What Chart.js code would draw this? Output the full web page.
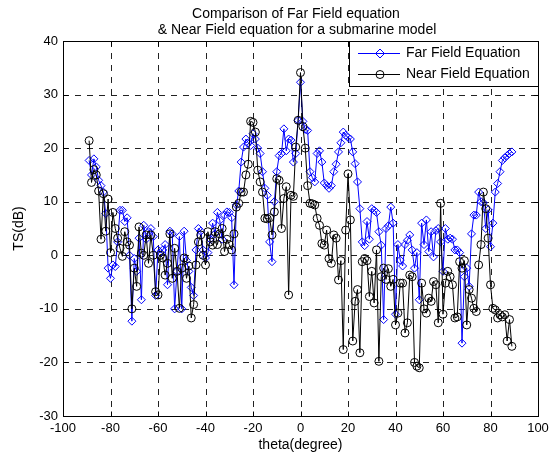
<!DOCTYPE html>
<html>
<head>
<meta charset="utf-8">
<title>TS comparison</title>
<script src="https://cdn.jsdelivr.net/npm/chart.js@4.4.0/dist/chart.umd.min.js"></script>
<style>
  body { margin: 0; background: #fff; }
  #box { width: 555px; height: 457px; }
</style>
</head>
<body>
<div id="box"><canvas id="graphteste" width="555" height="457"></canvas></div>
<script>
// angle (degree)
var theta = [
  -89, -88, -87, -86, -85, -84, -83, -82, -81, -80,
  -79, -78, -77, -76, -75, -74, -73, -72, -71, -70,
  -69, -68, -67, -66, -65, -64, -63, -62, -61, -60,
  -59, -58, -57, -56, -55, -54, -53, -52, -51, -50,
  -49, -48, -47, -46, -45, -44, -43, -42, -41, -40,
  -39, -38, -37, -36, -35, -34, -33, -32, -31, -30,
  -29, -28, -27, -26, -25, -24, -23, -22, -21, -20,
  -19, -18, -17, -16, -15, -14, -13, -12, -11, -10,
  -9, -8, -7, -6, -5, -4, -3, -2, -1, 0,
  1, 2, 3, 4, 5, 6, 7, 8, 9, 10,
  11, 12, 13, 14, 15, 16, 17, 18, 19, 20,
  21, 22, 23, 24, 25, 26, 27, 28, 29, 30,
  31, 32, 33, 34, 35, 36, 37, 38, 39, 40,
  41, 42, 43, 44, 45, 46, 47, 48, 49, 50,
  51, 52, 53, 54, 55, 56, 57, 58, 59, 60,
  61, 62, 63, 64, 65, 66, 67, 68, 69, 70,
  71, 72, 73, 74, 75, 76, 77, 78, 79, 80,
  81, 82, 83, 84, 85, 86, 87, 88, 89
];

// TS (dB), far field equation
var farField = [
  17.7, 15, 18, 16.5, 14, 13, 11.8, 7.8, -2.4, -4.3,
  -1.8, -2.1, 2.5, 8.4, 8.4, 6.3, 7, 0, -12.3, -0.6,
  -3, 3.2, -8.3, 5.6, 3, 4.4, 5, 3.5, -7.5, 1,
  0.5, 1, 2, -5.5, 4.5, 4, -10, -3, 3.5, -10,
  4.5, -1, -3, -6, -7.5, 1, 5, 4.5, 1, -0.5,
  0.5, 3, 6, 4, 8, 6.5, 3, 7.5, 8.1, 8,
  7, -5.5, 9.4, 12, 17.4, 20.2, 21.7, 21, 20.5, 22.7,
  21.7, 20, 19, 15.6, 12.5, 11.2, 2.5, -1.2, 10, 15.6,
  18.6, 19, 23.6, 19.5, 21.7, 21.5, 17.4, 19, 25.2, 32.3,
  25, 23.5, 23.3, 15.6, 14.5, 13.7, 19, 19.5, 17.4, 13.5,
  13, 12.5, 13, 15.6, 17, 19.3, 21, 23, 22.4, 22,
  21.7, 19.3, 17.1, 13.7, 8.7, 2.5, 1.8, 6.3, 3, 8.7,
  8.4, 8, 4.4, 1.9, -12, 5, 5.5, 9, 6, -11,
  2, -0.9, -2, 2, 2.8, 3.8, 1, -2.4, 0.5, -8.3,
  6, 2, 6.6, 0.7, 4.4, -0.3, 4.6, 5, 2.5, -3,
  5, 3, 3.2, 3, 1, 1, 0.5, -16.4, -4, -2.4,
  -5.8, 4, 7.5, 7.5, 11.8, 10, 9.8, 5, 8.5, 1.6,
  6, 11.8, 13.4, 15.6, 17.7, 18.2, 18.6, 19, 19.3
];

// TS (dB), near field equation
var nearField = [
  21.4, 13.6, 16, 15, 12, 3, 11.5, 4.5, 10.5, 0.5,
  8, 5, 3.2, 1.3, -0.2, 4.4, 2.5, 1.9, -10, -2.4,
  -5.8, 5.3, 0.4, 0, 3.8, -1.5, 3.8, 0, -6.8, -7.4,
  0, -0.5, -3.7, -1.5, 4, -4.3, 1.3, -3, -9.9, -2.4,
  -0.5, -4.3, -2, -11.7, -9.2, -1.8, 2.5, 3.8, 0, -1.8,
  4.4, 2.5, 1.9, 4.4, 2, 4, 5, 0.7, 3, 2,
  1, 4, 9, 9.7, 11.8, 11.8, 15, 17, 25, 24.8,
  23, 15.9, 13.7, 11.8, 6.9, 6.8, 7, 3.8, 8.1, 14.3,
  14, 5, 10.6, 12.8, -7.4, 11.2, 11, 20.2, 25.2, 34.1,
  24, 20, 13, 9.7, 9.6, 9.4, 6.9, 5.6, 2.2, 1.9,
  4.7, -0.6, -1.5, 3.8, 3.2, -4.6, -1, -17.6, 4.7, 15.2,
  6.6, -16, -8.6, -6.4, -18.2, -1.2, -0.6, -1, -7.7, -3,
  -8.9, 1, -19.8, -4, -2.4, -4.5, -2.5, -5.8, -4.5, -13,
  -10.8, -5.2, -5.2, -14.5, -12.6, -3.7, -4, -20, -20.7, -21,
  -5.2, -10, -10.8, -8, -8.6, -4.9, -5.5, -12.6, 9.7, -11,
  -5.2, -3, -4, -5.5, -11.7, -11.5, -1.2, -2.4, -1, -13,
  -6.4, -8, -9.9, -10.5, -1.8, 2, 11.8, 8.7, 3.2, -5.5,
  -9.9, -10.2, -11.7, -11.1, -11.5, -11.1, -16, -12, -17
];

var xTicks = [-100, -80, -60, -40, -20, 0, 20, 40, 60, 80, 100];
var yTicks = [-30, -20, -10, 0, 10, 20, 30, 40];
var seriesNames = ['Far Field Equation', 'Near Field Equation'];
var titleLines = ['Comparison of Far Field equation', '& Near Field equation for a submarine model'];

var fontName = "'Liberation Sans', Arial, Helvetica, sans-serif";

function toPoints(xs, ys) {
  var pts = [];
  for (var i = 0; i < xs.length; i++) {
    pts.push({ x: xs[i], y: ys[i] });
  }
  return pts;
}

function diamond(ctx, x, y, r) {
  ctx.beginPath();
  ctx.moveTo(x, y - r);
  ctx.lineTo(x + r, y);
  ctx.lineTo(x, y + r);
  ctx.lineTo(x - r, y);
  ctx.closePath();
  ctx.stroke();
}

// matlab style box, dashed grid, inner ticks, legend and title
var matlabLook = {
  id: 'matlabLook',
  beforeDatasetsDraw: function (chart) {
    var ctx = chart.ctx;
    var a = chart.chartArea;
    var xs = chart.scales.x, ys = chart.scales.y;
    ctx.save();
    ctx.strokeStyle = '#222';
    ctx.lineWidth = 1;
    ctx.setLineDash([6, 6]);
    ctx.beginPath();
    for (var i = 1; i < xTicks.length - 1; i++) {
      var px = Math.round(xs.getPixelForValue(xTicks[i])) + 0.5;
      ctx.moveTo(px, a.top);
      ctx.lineTo(px, a.bottom);
    }
    for (var j = 1; j < yTicks.length - 1; j++) {
      var py = Math.round(ys.getPixelForValue(yTicks[j])) + 0.5;
      ctx.moveTo(a.left, py);
      ctx.lineTo(a.right, py);
    }
    ctx.stroke();
    ctx.restore();
  },
  afterDatasetsDraw: function (chart) {
    var ctx = chart.ctx;
    var a = chart.chartArea;
    var xs = chart.scales.x, ys = chart.scales.y;
    var L = Math.round(a.left) + 0.5, R = Math.round(a.right) + 0.5;
    var T = Math.round(a.top) + 0.5, B = Math.round(a.bottom) + 0.5;
    ctx.save();
    ctx.strokeStyle = '#000';
    ctx.lineWidth = 1;
    ctx.setLineDash([]);
    // inner tick marks
    ctx.beginPath();
    for (var i = 1; i < xTicks.length - 1; i++) {
      var px = Math.round(xs.getPixelForValue(xTicks[i])) + 0.5;
      ctx.moveTo(px, B); ctx.lineTo(px, B - 5);
      ctx.moveTo(px, T); ctx.lineTo(px, T + 5);
    }
    for (var j = 1; j < yTicks.length - 1; j++) {
      var py = Math.round(ys.getPixelForValue(yTicks[j])) + 0.5;
      ctx.moveTo(L, py); ctx.lineTo(L + 5, py);
      ctx.moveTo(R, py); ctx.lineTo(R - 5, py);
    }
    ctx.stroke();
    ctx.strokeRect(L, T, R - L, B - T);

    // legend box (top right corner, inside)
    var lx = 349.5, ly = T, lw = R - lx, lh = 45;
    ctx.fillStyle = '#fff';
    ctx.fillRect(lx, ly, lw, lh);
    ctx.strokeRect(lx, ly, lw, lh);
    ctx.font = '14px ' + fontName;
    ctx.textBaseline = 'middle';
    ctx.textAlign = 'left';
    var rows = [53, 74];
    for (var k = 0; k < 2; k++) {
      var ds = chart.data.datasets[k === 0 ? 1 : 0];
      var ry = rows[k] + 0.5;
      ctx.strokeStyle = ds.borderColor;
      ctx.beginPath();
      ctx.moveTo(358, ry);
      ctx.lineTo(400, ry);
      ctx.stroke();
      if (ds.pointStyle === 'rectRot') {
        diamond(ctx, 380, ry, ds.pointRadius + 0.5);
      } else {
        ctx.beginPath();
        ctx.arc(380, ry, ds.pointRadius, 0, Math.PI * 2);
        ctx.stroke();
      }
      ctx.fillStyle = '#000';
      ctx.fillText(seriesNames[k], 406, rows[k]);
    }
    ctx.restore();
  },
  afterDraw: function (chart) {
    var ctx = chart.ctx;
    ctx.save();
    ctx.fillStyle = '#000';
    ctx.font = '14px ' + fontName;
    ctx.textAlign = 'center';
    ctx.textBaseline = 'middle';
    ctx.fillText(titleLines[0], 296, 14);
    ctx.fillText(titleLines[1], 297, 30);
    ctx.restore();
  }
};

function createGraph() {
  var dados = {
    datasets: [
      {
        label: seriesNames[1],
        data: toPoints(theta, nearField),
        borderColor: '#000000',
        borderWidth: 1,
        pointStyle: 'circle',
        pointRadius: 4,
        pointBorderColor: '#000000',
        pointBackgroundColor: 'rgba(0,0,0,0)',
        pointBorderWidth: 1,
        fill: false,
        tension: 0
      },
      {
        label: seriesNames[0],
        data: toPoints(theta, farField),
        borderColor: '#0000ff',
        borderWidth: 1,
        pointStyle: 'rectRot',
        pointRadius: 4,
        pointBorderColor: '#0000ff',
        pointBackgroundColor: 'rgba(0,0,0,0)',
        pointBorderWidth: 1,
        fill: false,
        tension: 0
      }
    ]
  };

  var gTarget = document.getElementById('graphteste');
  new Chart(gTarget, {
    type: 'line',
    data: dados,
    plugins: [matlabLook],
    options: {
      responsive: false,
      animation: false,
      devicePixelRatio: 1,
      layout: { padding: { left: 0, right: 17, top: 41, bottom: 0 } },
      plugins: {
        legend: { display: false },
        title: { display: false },
        tooltip: { enabled: false }
      },
      scales: {
        x: {
          type: 'linear',
          min: -100,
          max: 100,
          afterFit: function (scale) { scale.height = 41; },
          afterBuildTicks: function (scale) {
            scale.ticks = xTicks.map(function (v) { return { value: v }; });
          },
          grid: { display: false, drawTicks: false },
          border: { display: false },
          ticks: {
            color: '#000',
            padding: 5,
            autoSkip: false,
            maxRotation: 0,
            font: { family: fontName, size: 13 }
          },
          title: {
            display: true,
            text: 'theta(degree)',
            color: '#000',
            padding: { top: 0, bottom: 3 },
            font: { family: fontName, size: 14 }
          }
        },
        y: {
          type: 'linear',
          min: -30,
          max: 40,
          afterFit: function (scale) { scale.width = 63; },
          afterBuildTicks: function (scale) {
            scale.ticks = yTicks.map(function (v) { return { value: v }; });
          },
          grid: { display: false, drawTicks: false },
          border: { display: false },
          ticks: {
            color: '#000',
            padding: 5,
            font: { family: fontName, size: 13 }
          },
          title: {
            display: true,
            text: 'TS(dB)',
            color: '#000',
            padding: { top: 11, bottom: 0 },
            font: { family: fontName, size: 14 }
          }
        }
      }
    }
  });
}

createGraph();
</script>
